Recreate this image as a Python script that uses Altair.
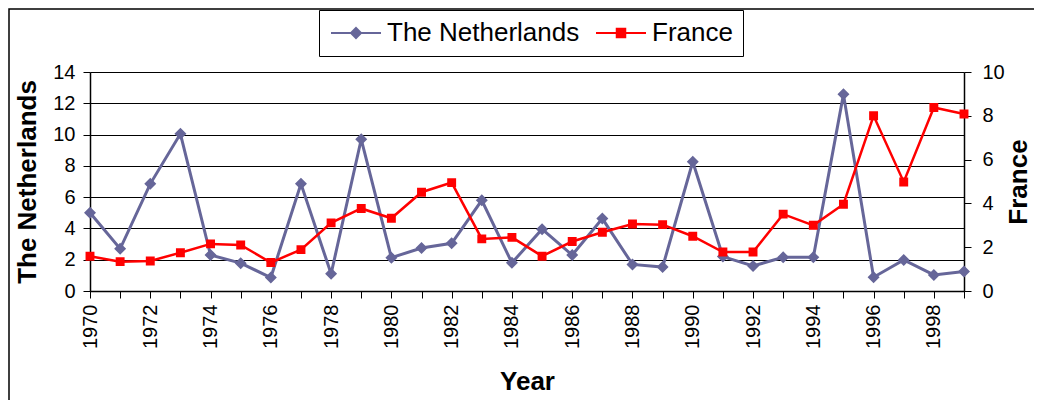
import altair as alt
import pandas as pd

years = list(range(1970, 2000))
netherlands = [5.0, 2.7, 6.85, 10.05, 2.3, 1.78, 0.86, 6.85, 1.1, 9.7,
               2.13, 2.75, 3.05, 5.8, 1.8, 3.95, 2.3, 4.63, 1.7, 1.53,
               8.26, 2.2, 1.6, 2.15, 2.15, 12.57, 0.88, 1.98, 1.03, 1.24]
france = [1.59, 1.34, 1.37, 1.75, 2.15, 2.1, 1.3, 1.89, 3.11, 3.77,
          3.32, 4.51, 4.95, 2.38, 2.45, 1.59, 2.26, 2.68, 3.06, 3.03,
          2.5, 1.78, 1.78, 3.51, 3.0, 3.96, 8.0, 4.98, 8.38, 8.08]
series_names = ["The Netherlands", "France"]
series_colors = ["#666699", "#FF0000"]
left_ticks = [0, 2, 4, 6, 8, 10, 12, 14]
right_ticks = [0, 2, 4, 6, 8, 10]

df_nl = pd.DataFrame({"Year": years, "value": netherlands, "series": series_names[0]})
df_fr = pd.DataFrame({"Year": years, "value": france, "series": series_names[1]})

FONT = "Liberation Sans"
W, H = 874, 219

# marker shapes with a legend line segment (line invisible on plot points: strokeWidth 0)
diamond_path = "M-5,0H5M0,-1L1,0L0,1L-1,0Z"
square_path = "M-5,0H5M-0.85,-0.85H0.85V0.85H-0.85Z"

x_enc = alt.X(
    "Year:Q",
    scale=alt.Scale(domain=[1970, 1999], nice=False, zero=False),
    axis=alt.Axis(
        title="Year", values=years,
        labelExpr="datum.value % 2 == 0 ? '' + datum.value : ''",
        labelAngle=270, labelOverlap=False, labelFlush=False,
        labelFontSize=20, labelPadding=6, tickSize=7,
        titleFontSize=26, titleFontWeight="bold", titlePadding=20,
        domainColor="#000000", domainWidth=1.5, tickColor="#000000",
        grid=False,
    ),
)

legend = alt.Legend(
    title=None, orient="none", legendX=229, legendY=-62, direction="horizontal",
    labelFont=FONT, labelFontSize=26, labelColor="#000000", labelLimit=0,
    strokeColor="#000000", fillColor="#FFFFFF", padding=10,
    symbolSize=100, symbolStrokeWidth=2, symbolOffset=14, labelOffset=18,
    columnPadding=12,
)

color_enc = alt.Color("series:N", scale=alt.Scale(domain=series_names, range=series_colors), legend=legend)
stroke_enc = alt.Stroke("series:N", scale=alt.Scale(domain=series_names, range=series_colors), legend=legend)
shape_enc = alt.Shape("series:N", scale=alt.Scale(domain=series_names, range=[diamond_path, square_path]), legend=legend)

y_left = alt.Y(
    "value:Q",
    scale=alt.Scale(domain=[0, 14], nice=False),
    axis=alt.Axis(
        title="The Netherlands", values=left_ticks, orient="left",
        grid=True, gridColor="#000000", gridWidth=1,
        labelFontSize=20, labelPadding=8, tickSize=7, tickColor="#000000",
        domainColor="#000000", domainWidth=1.5,
        titleFontSize=26, titleFontWeight="bold", titlePadding=12,
    ),
)
y_right = alt.Y(
    "value:Q",
    scale=alt.Scale(domain=[0, 10], nice=False),
    axis=alt.Axis(
        title="France", values=right_ticks, orient="right",
        grid=False,
        labelFontSize=20, labelPadding=11, tickSize=7, tickColor="#000000",
        domainColor="#000000", domainWidth=1.5,
        titleFontSize=26, titleFontWeight="bold", titlePadding=27, titleAngle=270,
    ),
)

nl_line = alt.Chart(df_nl).mark_line(color=series_colors[0], strokeWidth=3).encode(x=x_enc, y=y_left)
nl_pts = alt.Chart(df_nl).mark_point(filled=True, size=144, strokeWidth=0, opacity=1).encode(
    x=x_enc, y=y_left, color=color_enc, stroke=stroke_enc, shape=shape_enc)
fr_line = alt.Chart(df_fr).mark_line(color=series_colors[1], strokeWidth=2.5).encode(x=x_enc, y=y_right)
fr_pts = alt.Chart(df_fr).mark_point(filled=True, size=110, strokeWidth=0, opacity=1).encode(
    x=x_enc, y=y_right, color=color_enc, stroke=stroke_enc, shape=shape_enc)

frame = alt.Chart(alt.Data(values=[{}])).mark_rect(
    filled=False, stroke="#000000", strokeWidth=1.5, clip=False
).encode(x=alt.value(-81), x2=alt.value(W + 200), y=alt.value(-63), y2=alt.value(H + 300))

nl_group = alt.layer(nl_line, nl_pts)
fr_group = alt.layer(fr_line, fr_pts)

chart = alt.layer(frame, nl_group, fr_group).resolve_scale(y="independent").properties(
    width=W, height=H,
    autosize=alt.AutoSizeParams(type="none"),
    padding={"left": 82, "top": 64, "right": 70, "bottom": 109},
    background="#FFFFFF",
).configure_view(
    fill="#C0C0C0", stroke="#808080", strokeWidth=2
).configure(font=FONT).configure_axis(
    labelFont=FONT, titleFont=FONT, labelColor="#000000", titleColor="#000000"
)

chart.save("out.html", embed_options={"renderer": "svg", "actions": False})
